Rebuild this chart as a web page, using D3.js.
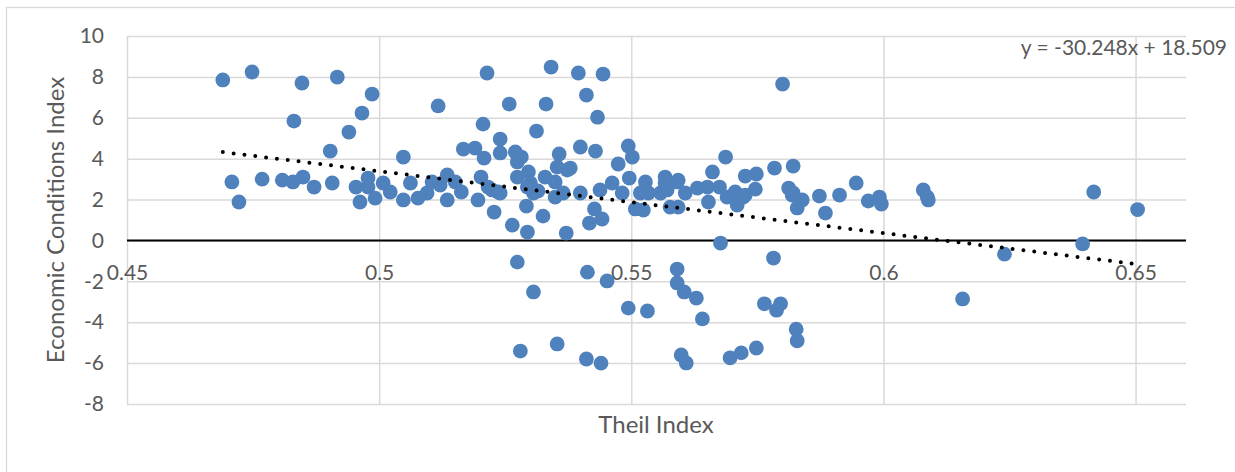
<!DOCTYPE html>
<html>
<head>
<meta charset="utf-8">
<script src="https://cdn.jsdelivr.net/npm/d3@7"></script>
<style>
  body { margin: 0; background: #fff; }
  text { font-family: Lato, "Open Sans", sans-serif; fill: #595959; }
</style>
</head>
<body>
<div id="chart"></div>
<script>
"use strict";

// Theil index (x) per observation
var theil = [
  0.4690,0.4748,0.4708,0.4722,0.4768,0.4847,0.4831,0.4917,0.4808,0.4829,
  0.4849,0.4871,0.4907,0.4903,0.4940,0.4966,0.4986,0.4954,0.4962,0.4978,
  0.4978,0.4992,0.5008,0.5022,0.5048,0.5048,0.5062,0.5077,0.5095,0.5105,
  0.5117,0.5121,0.5135,0.5135,0.5151,0.5163,0.5167,0.5190,0.5196,0.5202,
  0.5206,0.5208,0.5214,0.5216,0.5228,0.5236,0.5240,0.5240,0.5258,0.5264,
  0.5270,0.5274,0.5282,0.5274,0.5294,0.5292,0.5296,0.5300,0.5306,0.5312,
  0.5315,0.5325,0.5329,0.5331,0.5341,0.5349,0.5353,0.5357,0.5371,0.5373,
  0.5365,0.5379,0.5395,0.5399,0.5411,0.5417,0.5427,0.5429,0.5433,0.5442,
  0.5444,0.5438,0.5399,0.5462,0.5474,0.5482,0.5494,0.5502,0.5496,0.5508,
  0.5524,0.5518,0.5528,0.5534,0.5558,0.5567,0.5577,0.5571,0.5593,0.5593,
  0.5607,0.5631,0.5651,0.5661,0.5653,0.5675,0.5687,0.5690,0.5677,0.5706,
  0.5710,0.5722,0.5726,0.5748,0.5746,0.5784,0.5800,0.5812,0.5821,0.5819,
  0.5829,0.5839,0.5873,0.5885,0.5913,0.5946,0.5970,0.5992,0.5996,0.6079,
  0.6089,0.6087,0.6417,0.6504,0.6395,0.6240,0.6157,0.5274,0.5306,0.5280,
  0.5353,0.5413,0.5452,0.5411,0.5440,0.5494,0.5532,0.5591,0.5591,0.5605,
  0.5629,0.5641,0.5599,0.5609,0.5696,0.5718,0.5748,0.5782,0.5764,0.5796,
  0.5788,0.5827,0.5829,0.5224,0.5240,0.5294,0.5349,0.5567,0.5591,0.5726,
  0.5821
];

// Economic conditions index (y), same order
var econ = [
  7.85,8.24,2.86,1.88,3.00,7.70,5.84,7.99,2.95,2.86,
  3.10,2.61,2.81,4.37,5.30,6.23,7.16,2.61,1.88,3.05,
  2.61,2.07,2.81,2.37,4.08,1.98,2.81,2.07,2.32,2.86,
  6.58,2.71,3.20,1.98,2.86,2.37,4.47,4.52,1.98,3.10,
  5.69,4.03,8.19,2.61,1.39,2.37,4.96,4.28,6.67,0.75,
  4.33,3.10,4.08,3.84,0.41,1.68,3.35,2.81,2.32,5.35,
  2.42,1.19,3.10,6.67,8.48,2.86,3.59,4.23,0.36,3.44,
  2.32,3.54,8.19,4.57,7.11,0.85,1.54,4.37,6.03,1.05,
  8.14,2.47,2.32,2.81,3.74,2.32,4.62,4.08,3.05,1.54,
  1.49,2.32,2.86,2.32,2.32,3.10,1.63,2.47,2.95,1.63,
  2.32,2.56,2.61,3.35,1.88,2.61,4.08,2.12,-0.13,2.37,
  1.73,2.12,3.15,3.25,2.51,3.54,7.65,2.56,3.64,2.22,
  1.59,1.98,2.17,1.34,2.22,2.81,1.93,2.12,1.78,2.47,
  1.98,2.12,2.37,1.51,-0.17,-0.67,-2.86,-1.06,-2.52,-5.41,
  -5.06,-1.55,-1.98,-5.80,-6.00,-3.31,-3.45,-1.40,-2.08,-2.52,
  -2.82,-3.84,-5.60,-5.99,-5.74,-5.50,-5.26,-0.86,-3.10,-3.10,
  -3.41,-4.34,-4.91,2.47,2.32,2.61,2.12,2.81,2.86,2.22,
  2.32
];

var xTicks = [0.45, 0.5, 0.55, 0.6, 0.65];
var yTicks = [-8, -6, -4, -2, 0, 2, 4, 6, 8, 10];

// linear trend as printed on the chart
var slope = -30.248, intercept = 18.509;
var eqLabel = "y = -30.248x + 18.509";
var xTitle = "Theil Index";
var yTitle = "Economic Conditions Index";

var data = theil.map(function(t, i) { return {x: t, y: econ[i]}; });

// dimensions
var W = 1235, H = 472;
var margin = {top: 36, right: 49, bottom: 68, left: 127},
    width = W - margin.left - margin.right,
    height = H - margin.top - margin.bottom;

var svg = d3.select("#chart").append("svg")
    .attr("width", W)
    .attr("height", H);

// chart area border
svg.append("rect")
    .attr("x", 6.5).attr("y", 7.5)
    .attr("width", W + 20).attr("height", H + 20)
    .attr("fill", "none")
    .attr("stroke", "#d9d9d9")
    .attr("stroke-width", 1.3);

var g = svg.append("g")
    .attr("transform", "translate(" + margin.left + "," + margin.top + ")");

var x = d3.scaleLinear().domain([0.45, 0.66]).range([0, width]);
var y = d3.scaleLinear().domain([-8, 10]).range([height, 0]);

// gridlines
var xGrid = g.append("g")
    .attr("transform", "translate(0," + height + ")")
    .call(d3.axisBottom(x).tickValues(xTicks).tickSize(-height).tickFormat(""));
var yGrid = g.append("g")
    .call(d3.axisLeft(y).tickValues(yTicks).tickSize(-width).tickFormat(""));
[xGrid, yGrid].forEach(function(a) {
    a.select(".domain").remove();
    a.selectAll("line").attr("stroke", "#d9d9d9").attr("stroke-width", 1.5);
});

// zero line
g.append("line")
    .attr("x1", 0).attr("x2", width)
    .attr("y1", y(0)).attr("y2", y(0))
    .attr("stroke", "#000")
    .attr("stroke-width", 2);

// y tick labels
var yAx = g.append("g")
    .call(d3.axisLeft(y).tickValues(yTicks).tickSize(0).tickPadding(23)
        .tickFormat(function(d) { return String(d); }));
yAx.select(".domain").remove();
yAx.selectAll("text")
    .style("font-size", "21px")
    .attr("fill", "#595959");

// x tick labels sit under the zero line
var xAx = g.append("g")
    .attr("transform", "translate(0," + y(0) + ")")
    .call(d3.axisBottom(x).tickValues(xTicks).tickSize(0).tickPadding(25)
        .tickFormat(function(d) { return String(d); }));
xAx.select(".domain").remove();
xAx.selectAll("text")
    .style("font-size", "21px")
    .attr("fill", "#595959");

// points
g.selectAll("circle.pt")
    .data(data)
  .enter().append("circle")
    .attr("class", "pt")
    .attr("cx", function(d) { return x(d.x); })
    .attr("cy", function(d) { return y(d.y); })
    .attr("r", 7.4)
    .attr("fill", "#4f81bd");

// trendline over the data range
var ext = d3.extent(theil);
var trend = d3.line()
    .x(function(d) { return x(d); })
    .y(function(d) { return y(slope * d + intercept); });
g.append("path")
    .datum(ext)
    .attr("d", trend)
    .attr("fill", "none")
    .attr("stroke", "#000")
    .attr("stroke-width", 4)
    .attr("stroke-linecap", "round")
    .attr("stroke-dasharray", "0 10.9");

// equation label
svg.append("text")
    .attr("x", 1227).attr("y", 55)
    .attr("text-anchor", "end")
    .style("font-size", "21px")
    .text(eqLabel);

// axis titles
svg.append("text")
    .attr("x", 656).attr("y", 433)
    .attr("text-anchor", "middle")
    .style("font-size", "24px")
    .text(xTitle);

svg.append("text")
    .attr("transform", "translate(64," + (margin.top + height / 2) + ") rotate(-90)")
    .attr("text-anchor", "middle")
    .style("font-size", "24px")
    .text(yTitle);
</script>
</body>
</html>
